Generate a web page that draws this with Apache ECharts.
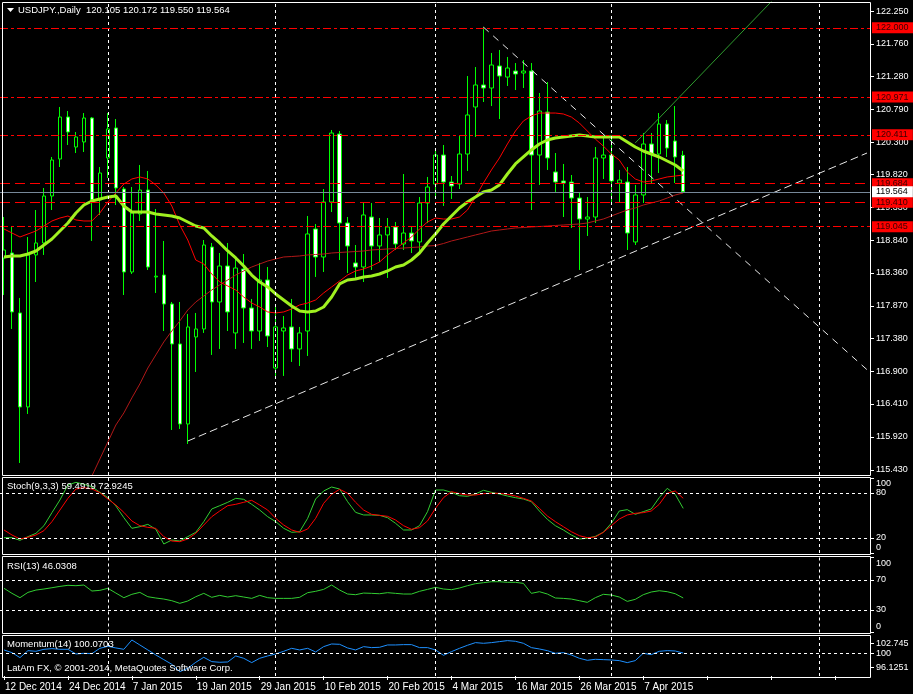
<!DOCTYPE html>
<html><head><meta charset="utf-8">
<script src="https://cdn.jsdelivr.net/npm/echarts@6/dist/echarts.min.js"></script>
<style>html,body{margin:0;padding:0;background:#000;}#c{width:913px;height:694px;}</style>
</head><body><div id="c"></div>
<script>
const dates = ["12 Dec 2014","15 Dec 2014","16 Dec 2014","17 Dec 2014","18 Dec 2014","19 Dec 2014","22 Dec 2014","23 Dec 2014","24 Dec 2014","26 Dec 2014","29 Dec 2014","30 Dec 2014","31 Dec 2014",
"2 Jan 2015","5 Jan 2015","6 Jan 2015","7 Jan 2015","8 Jan 2015","9 Jan 2015","12 Jan 2015","13 Jan 2015","14 Jan 2015","15 Jan 2015","16 Jan 2015","19 Jan 2015","20 Jan 2015","21 Jan 2015","22 Jan 2015","23 Jan 2015","26 Jan 2015","27 Jan 2015","28 Jan 2015","29 Jan 2015","30 Jan 2015",
"2 Feb 2015","3 Feb 2015","4 Feb 2015","5 Feb 2015","6 Feb 2015","9 Feb 2015","10 Feb 2015","11 Feb 2015","12 Feb 2015","13 Feb 2015","16 Feb 2015","17 Feb 2015","18 Feb 2015","19 Feb 2015","20 Feb 2015","23 Feb 2015","24 Feb 2015","25 Feb 2015","26 Feb 2015","27 Feb 2015",
"2 Mar 2015","3 Mar 2015","4 Mar 2015","5 Mar 2015","6 Mar 2015","9 Mar 2015","10 Mar 2015","11 Mar 2015","12 Mar 2015","13 Mar 2015","16 Mar 2015","17 Mar 2015","18 Mar 2015","19 Mar 2015","20 Mar 2015","23 Mar 2015","24 Mar 2015","25 Mar 2015","26 Mar 2015","27 Mar 2015","30 Mar 2015","31 Mar 2015",
"1 Apr 2015","2 Apr 2015","3 Apr 2015","6 Apr 2015","7 Apr 2015","8 Apr 2015","9 Apr 2015","10 Apr 2015","13 Apr 2015","14 Apr 2015"];

const open = [118.580,118.654,117.763,116.366,118.625,118.803,119.501,120.051,120.675,120.229,
120.304,120.660,119.442,120.066,120.512,119.605,118.372,119.234,119.590,118.298,
118.327,117.896,117.302,116.113,117.406,117.525,118.743,117.926,118.461,117.466,
118.416,117.837,117.495,118.253,116.945,117.495,117.555,117.228,117.495,119.011,
118.595,119.412,120.422,119.100,118.506,118.446,119.189,118.758,118.922,119.041,
118.788,118.951,118.818,119.397,119.679,120.110,119.709,119.679,120.125,120.824,
121.151,121.106,121.433,121.269,121.358,121.329,121.358,120.110,120.749,119.858,
119.724,119.709,119.471,119.159,119.189,120.066,120.110,119.694,119.709,118.818,
119.516,120.274,120.125,120.571,120.318,120.105];
const high = [119.189,119.041,117.986,118.892,119.293,119.620,120.081,120.824,120.764,120.452,
120.734,120.675,119.932,120.734,120.645,119.635,119.635,119.962,119.873,119.308,
118.833,117.926,117.926,117.748,117.763,118.847,118.803,118.654,118.803,118.565,
118.639,117.971,118.506,118.446,117.852,117.718,117.971,117.555,119.204,119.085,
119.605,120.482,120.467,119.189,118.773,119.397,119.397,119.174,119.174,119.115,
119.828,119.041,119.486,119.784,120.170,120.259,119.798,120.393,121.284,121.418,
122.012,121.626,121.671,121.567,121.477,121.522,121.477,121.032,121.195,120.140,
119.977,119.813,119.546,119.486,120.229,120.378,120.363,119.888,119.932,119.665,
120.437,120.437,120.734,120.630,120.838,120.172];
const low = [118.030,117.525,115.534,116.262,118.223,118.625,119.293,119.932,120.259,120.140,
120.155,118.833,119.219,119.769,119.367,118.030,118.342,119.130,118.402,118.060,
117.495,116.024,116.039,115.816,116.886,117.466,117.139,117.228,117.495,117.228,
117.317,117.228,117.347,117.257,116.827,116.827,117.035,116.975,117.124,118.298,
118.372,119.263,118.550,118.357,118.253,118.223,118.402,118.520,118.283,118.699,
118.699,118.654,118.654,119.100,119.501,119.353,119.457,119.605,119.873,120.378,
120.898,120.838,120.645,121.136,121.076,121.106,119.293,119.665,119.888,119.561,
119.189,119.026,118.402,118.907,119.100,119.754,119.397,119.412,118.699,118.773,
119.397,119.694,119.843,120.081,119.694,119.550];
const close = [118.699,117.778,116.366,118.625,118.803,119.501,120.036,120.675,120.452,120.378,
120.660,119.442,119.843,120.497,119.620,118.372,119.249,119.590,118.446,118.310,
117.896,117.302,116.113,117.555,117.525,118.773,117.926,118.461,117.778,118.431,
117.837,117.495,118.253,117.421,117.555,117.540,117.228,117.466,118.937,118.595,
119.412,120.437,119.100,118.758,118.446,119.219,118.758,118.922,119.041,118.788,
118.951,118.833,119.397,119.635,120.110,119.709,119.650,120.125,120.705,121.151,
121.106,121.448,121.284,121.403,121.314,121.358,120.110,120.764,120.066,119.709,
119.694,119.471,119.159,119.189,120.066,120.110,119.724,119.739,118.951,119.516,
120.274,120.125,120.571,120.214,120.081,119.564];

// moving averages
const maMid = [118.595,118.610,118.610,118.639,118.684,118.773,118.862,118.981,119.100,119.249,
119.367,119.427,119.457,119.486,119.501,119.353,119.263,119.263,119.263,119.234,
119.219,119.204,119.174,119.115,119.055,119.026,118.907,118.803,118.684,118.580,
118.461,118.327,118.223,118.149,118.045,117.956,117.867,117.792,117.778,117.792,
117.852,118.000,118.194,118.253,118.268,118.298,118.312,118.342,118.387,118.446,
118.476,118.550,118.654,118.803,118.937,119.085,119.204,119.323,119.412,119.486,
119.561,119.590,119.665,119.828,119.977,120.081,120.185,120.274,120.333,120.363,
120.378,120.393,120.408,120.393,120.378,120.378,120.378,120.378,120.304,120.229,
120.170,120.125,120.081,120.021,119.962,119.873];
const maFast = [119.011,118.951,118.892,118.937,118.981,119.055,119.130,119.174,119.204,119.145,
119.130,119.130,119.249,119.412,119.546,119.679,119.754,119.784,119.754,119.665,
119.546,119.353,119.070,118.847,118.550,118.491,118.342,118.223,118.164,118.104,
118.000,117.911,117.852,117.778,117.763,117.778,117.822,117.882,117.911,117.956,
118.060,118.149,118.238,118.327,118.387,118.416,118.461,118.520,118.625,118.714,
118.803,118.892,119.011,119.115,119.174,119.159,119.159,119.189,119.293,119.486,
119.694,119.888,120.066,120.274,120.467,120.616,120.690,120.734,120.734,120.734,
120.720,120.675,120.586,120.467,120.348,120.244,120.125,120.036,119.858,119.754,
119.709,119.724,119.754,119.784,119.798,119.813];
const maSlow = [null,null,null,null,null,null,null,null,null,null,
115.014,115.341,115.593,115.846,116.098,116.277,116.500,116.708,116.945,117.139,
117.332,117.495,117.644,117.807,117.926,118.015,118.104,118.179,118.253,118.327,
118.387,118.446,118.491,118.535,118.565,118.595,118.602,118.610,118.625,118.632,
118.639,118.654,118.662,118.669,118.676,118.684,118.699,118.706,118.714,118.721,
118.728,118.736,118.743,118.758,118.765,118.795,118.833,118.862,118.892,118.922,
118.951,118.981,118.996,119.011,119.026,119.033,119.041,119.048,119.055,119.063,
119.070,119.078,119.085,119.100,119.130,119.159,119.204,119.249,119.293,119.323,
119.367,119.397,119.427,119.471,119.516,119.546];

// oscillators
const stochMain = [20.4,20.4,16.9,21.8,26.2,36.4,53.8,70.7,90.7,94.2,
91.6,88.4,80.9,73.8,62.7,47.1,32.9,35.1,38.2,31.6,
12.0,17.3,16.0,21.8,27.6,41.8,58.7,63.1,67.6,72.9,
71.6,64.9,57.3,48.4,41.8,32.9,27.6,28.4,46.2,72.0,
82.7,88.0,85.3,68.4,54.2,50.7,50.7,50.2,47.1,39.6,
30.7,30.7,36.4,55.1,84.0,84.0,80.9,76.4,75.6,78.7,
83.6,80.9,78.7,76.0,73.8,72.0,68.4,56.0,44.9,36.4,
30.7,24.0,18.7,19.6,22.2,27.6,39.6,56.0,57.8,51.6,
55.1,58.7,73.8,86.2,78.2,59.4919];
const stochSignal = [30.7,24.0,18.7,20.9,24.0,29.8,41.8,57.3,72.9,85.3,
87.1,85.3,80.4,72.0,64.0,54.2,42.7,36.4,34.2,32.9,
21.8,16.0,15.1,18.7,26.2,37.3,48.4,56.0,63.1,64.9,
67.6,70.2,64.0,57.3,46.2,37.3,30.7,27.6,32.0,46.2,
66.2,78.2,84.9,79.6,67.6,57.3,51.6,50.2,48.9,44.0,
36.4,31.6,33.8,42.7,59.6,73.8,81.8,79.1,77.3,77.3,
79.1,79.6,79.6,78.2,76.0,72.9,69.3,59.6,49.3,41.8,
35.1,28.4,23.1,20.4,21.3,27.6,36.4,45.3,50.7,52.9,
53.8,56.0,64.9,79.6,82.7,72.9245];
const rsi = [58.9,52.2,46.4,53.5,56.6,58.0,59.7,61.5,62.9,62.4,
63.3,55.3,56.2,58.9,52.6,46.4,50.9,53.5,47.7,46.0,
44.6,42.4,38.9,42.0,47.7,52.2,46.9,49.5,47.3,49.1,
47.3,45.5,49.5,46.4,45.5,45.5,45.5,46.9,53.1,54.9,
57.5,63.3,56.6,51.3,50.4,52.6,52.2,51.7,53.1,52.2,
51.3,51.3,54.9,57.5,60.2,58.0,57.1,59.3,62.4,65.1,
66.4,67.7,67.7,66.9,66.9,65.5,52.2,54.4,51.3,46.0,
45.5,44.6,42.4,40.2,46.4,50.9,50.0,47.3,41.5,44.2,
50.4,54.0,55.7,54.4,51.7,46.0308];
const momentum = [100.92,100.18,98.81,100.73,100.55,101.10,101.28,101.10,101.10,99.82,
100.00,99.91,101.37,101.92,101.47,101.10,103.66,102.29,100.92,99.54,
98.26,96.98,94.96,95.88,97.53,98.90,97.71,97.53,97.62,99.27,
98.63,97.44,98.63,99.27,99.82,100.55,101.37,100.92,101.37,100.37,
101.83,102.56,102.47,101.47,100.92,101.83,101.56,101.65,102.29,102.29,
102.38,102.38,101.56,101.56,100.92,99.45,100.46,101.37,102.20,102.93,
102.75,102.93,103.21,103.48,103.30,102.75,101.56,101.19,100.73,100.00,
100.18,99.54,98.63,98.08,98.35,98.26,98.17,97.99,97.44,97.99,
100.00,99.63,100.55,100.73,100.64,100.0703];

// axis tick labels
const priceTicks = [122.250,121.760,121.280,120.790,120.300,119.820,119.330,118.840,118.360,117.870,117.380,116.900,116.410,115.920,115.430];
const stochTicks = [100,80,20,0];
const rsiTicks = [100,70,30,0];
const momTicks = [102.745,100,96.1251];
const stochLevels = [80,20];
const rsiLevels = [70,30];
const momLevels = [100];

// drawn objects
const priceLevels = [122.000,120.971,120.411,119.684,119.410,119.045];
const bidPrice = 119.564;
const monthBars = [13,34,54,76,102];
const supportLine = [[23,115.86],[108,120.14]];
const resistLine = [[60,122.01],[108,116.92]];
const channelLine = [[79,120.29],[97,122.51]];

// ---------------- chart ----------------
const SLOTS = 109;
const cats = dates.concat(new Array(SLOTS - dates.length).fill(''));
const candles = dates.map((d, i) => [open[i], close[i], low[i], high[i]]);
const FONT = 'Liberation Sans, Arial, sans-serif';
const W = '#ffffff';
const DASHDOT = [8, 3, 3, 3];
const DASH = [10, 5];
const levelStyles = [DASHDOT, DASHDOT, DASHDOT, DASH, DASH, DASHDOT];

const grids = [
  {left: -1, width: 872, top: 2, height: 473},
  {left: -1, width: 872, top: 478, height: 75},
  {left: -1, width: 872, top: 557.5, height: 75},
  {left: -1, width: 872, top: 636, height: 40}
];

function xAx(gi, show) {
  return {
    type: 'category', gridIndex: gi, data: cats, boundaryGap: true,
    axisLine: {show: false}, splitLine: {show: false},
    axisTick: show ? {show: true, interval: 7, alignWithLabel: true, length: 4, lineStyle: {color: W}} : {show: false},
    axisLabel: show ? {show: true, interval: 7, align: 'left', color: W, fontSize: 10, fontFamily: FONT, margin: 6, padding: [0, 0, 0, 1]} : {show: false}
  };
}
const edgeRich = {
  t: {color: W, fontSize: 9, fontFamily: FONT, padding: [12, 0, 0, 0]},
  b: {color: W, fontSize: 9, fontFamily: FONT, padding: [0, 0, 11, 0]}
};
function yAx(gi, min, max, ticks, fmt, shiftEdges) {
  return {
    type: 'value', gridIndex: gi, position: 'right', min: min, max: max,
    axisLine: {show: false}, splitLine: {show: false},
    axisTick: {show: true, customValues: ticks, length: 3, lineStyle: {color: W}},
    axisLabel: {show: true, customValues: ticks, color: W, fontSize: 9, fontFamily: FONT, margin: 5,
      showMinLabel: true, showMaxLabel: true, rich: edgeRich,
      formatter: v => {
        const s = fmt(v);
        if (!shiftEdges) return s;
        if (v === max) return '{t|' + s + '}';
        if (v === min) return '{b|' + s + '}';
        return s;
      }}
  };
}
function guides(gi, hVals) {
  const data = monthBars.map(b => ({xAxis: b})).concat(hVals.map(v => ({yAxis: v})));
  return {
    type: 'line', xAxisIndex: gi, yAxisIndex: gi, data: [], z: 1, silent: true,
    markLine: {silent: true, symbol: ['none', 'none'], animation: false, label: {show: false},
      lineStyle: {color: W, type: [3, 3], width: 1}, data: data}
  };
}
function line(gi, data, color, width, z) {
  return {type: 'line', xAxisIndex: gi, yAxisIndex: gi, data: data, symbol: 'none', silent: true,
    lineStyle: {color: color, width: width}, z: z || 3, animation: false, connectNulls: false};
}
function seg(data, color, type, z) {
  return {type: 'line', xAxisIndex: 0, yAxisIndex: 0, data: data, symbol: 'none', silent: true,
    lineStyle: {color: color, width: 1, type: type}, z: z || 4, animation: false};
}

const levelLabel = (bg, fg) => ({show: true, position: 'end', distance: 1,
  formatter: p => Number(p.value).toFixed(3), backgroundColor: bg, color: fg,
  fontSize: 9, fontFamily: FONT, lineHeight: 11, padding: [0, 5, 0, 4]});

const levelData = priceLevels.map((v, i) => ({yAxis: v,
  lineStyle: {color: '#ff0000', width: 1, type: levelStyles[i]}, label: levelLabel('#ff0000', '#3a0000')}))
  .concat([{yAxis: bidPrice, lineStyle: {color: '#778899', width: 1, type: 'solid'}, label: levelLabel('#ffffff', '#000000')}]);

const last = dates.length - 1;
const hdr = 'USDJPY.,Daily  ' + open[last].toFixed(3) + ' ' + high[last].toFixed(3) + ' ' + low[last].toFixed(3) + ' ' + close[last].toFixed(3);

function txt(x, y, s) {
  return {type: 'text', x: x, y: y, z: 20, silent: true,
    style: {text: s, fill: W, fontSize: 9.5, fontFamily: FONT, verticalAlign: 'middle'}};
}
function frame(y0, y1) {
  return {type: 'rect', z: 30, silent: true, shape: {x: 2.5, y: y0 + 0.5, width: 868, height: y1 - y0},
    style: {fill: 'none', stroke: W, lineWidth: 1}};
}

const option = {
  backgroundColor: '#000000',
  animation: false,
  grid: grids,
  xAxis: [xAx(0, false), xAx(1, false), xAx(2, false), xAx(3, true)],
  yAxis: [
    yAx(0, 115.355, 122.384, priceTicks, v => v.toFixed(3), false),
    yAx(1, 0, 100, stochTicks, v => String(v), true),
    yAx(2, 0, 100, rsiTicks, v => String(v), true),
    yAx(3, 93.764, 104.753, momTicks, v => String(v), false)
  ],
  series: [
    guides(0, []),
    {type: 'candlestick', xAxisIndex: 0, yAxisIndex: 0, data: candles, barWidth: 4, z: 2, silent: true,
      itemStyle: {color: '#000000', color0: '#ffffff', borderColor: '#00ff00', borderColor0: '#00ff00', borderWidth: 1}},
    line(0, maSlow, '#b01818', 1, 3),
    line(0, maFast, '#ff0000', 1, 3),
    line(0, maMid, '#a0f020', 3, 3),
    seg(supportLine, '#e8e8e8', [8, 4]),
    seg(resistLine, '#e8e8e8', [7, 6]),
    seg(channelLine, '#2e9b2e', 'solid'),
    {type: 'line', xAxisIndex: 0, yAxisIndex: 0, data: [], z: 5, silent: true,
      markLine: {silent: true, precision: 3, symbol: ['none', 'none'], animation: false, data: levelData}},
    guides(1, stochLevels),
    line(1, stochMain, '#32cd32', 1, 3),
    line(1, stochSignal, '#ff0000', 1, 3),
    guides(2, rsiLevels),
    line(2, rsi, '#32cd32', 1, 3),
    guides(3, momLevels),
    line(3, momentum, '#1e90ff', 1, 3)
  ],
  graphic: [
    frame(2, 475), frame(477, 554), frame(556, 633), frame(635, 677),
    {type: 'polygon', z: 20, silent: true, shape: {points: [[7, 8], [14, 8], [10.5, 12]]}, style: {fill: W}},
    txt(18, 10, hdr),
    txt(7, 486, 'Stoch(9,3,3) ' + stochMain[last].toFixed(4) + ' ' + stochSignal[last].toFixed(4)),
    txt(7, 566, 'RSI(13) ' + rsi[last].toFixed(4)),
    txt(7, 644, 'Momentum(14) ' + momentum[last].toFixed(4)),
    txt(7, 668, 'LatAm FX, \u00a9 2001-2014, MetaQuotes Software Corp.')
  ]
};

const chart = echarts.init(document.getElementById('c'), null, {renderer: 'canvas'});
chart.setOption(option);
</script>
</body></html>
